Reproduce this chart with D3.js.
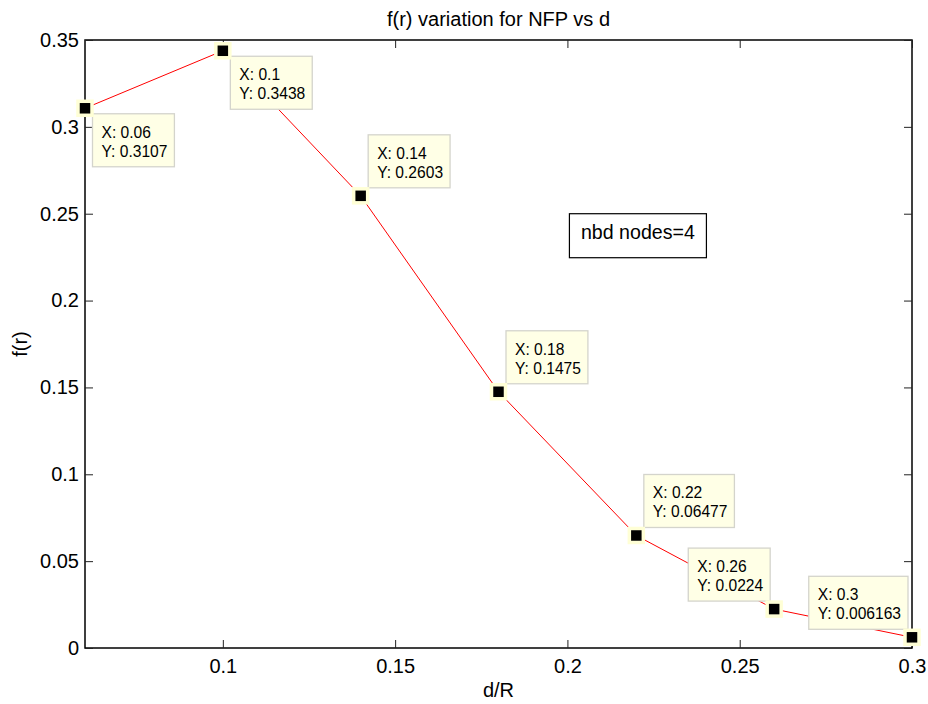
<!DOCTYPE html>
<html>
<head>
<meta charset="utf-8">
<script src="https://cdn.jsdelivr.net/npm/d3@7"></script>
<style>
  body { margin: 0; background: #fff; }
  text { font-family: "Liberation Sans", Arial, sans-serif; fill: #000; }
</style>
</head>
<body>
<svg id="chart" width="928" height="704"></svg>
<script>
// data
const dValues = [0.06, 0.1, 0.14, 0.18, 0.22, 0.26, 0.3];
const fValues = [0.3107, 0.3438, 0.2603, 0.1475, 0.06477, 0.0224, 0.006163];
const tipLabels = ["0.3107", "0.3438", "0.2603", "0.1475", "0.06477", "0.0224", "0.006163"];
const xTicks = [0.1, 0.15, 0.2, 0.25, 0.3];
const yTicks = [0, 0.05, 0.1, 0.15, 0.2, 0.25, 0.3, 0.35];
const noteText = "nbd nodes=4";

// where each data tip sits relative to its point
const tipSide = ["br", "br", "tr", "tr", "tr", "tl", "tl"];

const svg = d3.select('#chart');
const mLeft = 85, mRight = 912, mTop = 40, mBottom = 648;

const x = d3.scaleLinear().domain([0.06, 0.3]).range([mLeft, mRight]);
const y = d3.scaleLinear().domain([0, 0.35]).range([mBottom, mTop]);

// axes box
svg.append('rect')
    .attr('x', mLeft).attr('y', mTop)
    .attr('width', mRight - mLeft).attr('height', mBottom - mTop)
    .attr('fill', 'none').attr('stroke', '#000').attr('stroke-width', 1.5);

const fmt = d => String(+d.toFixed(2));

// ticks, inward, on all four sides
svg.append('g').attr('transform', 'translate(0,' + mBottom + ')')
    .call(d3.axisBottom(x).tickValues(xTicks).tickSizeInner(-8).tickSizeOuter(0).tickPadding(11).tickFormat(fmt))
    .call(g => g.select('.domain').remove())
    .call(g => g.selectAll('text').attr('font-size', 20).attr('fill', '#000'));
svg.append('g').attr('transform', 'translate(0,' + mTop + ')')
    .call(d3.axisTop(x).tickValues(xTicks).tickSizeInner(-8).tickSizeOuter(0).tickFormat(''))
    .call(g => g.select('.domain').remove());
svg.append('g').attr('transform', 'translate(' + mLeft + ',0)')
    .call(d3.axisLeft(y).tickValues(yTicks).tickSizeInner(-8).tickSizeOuter(0).tickPadding(6).tickFormat(fmt))
    .call(g => g.select('.domain').remove())
    .call(g => g.selectAll('text').attr('font-size', 20).attr('fill', '#000'));
svg.append('g').attr('transform', 'translate(' + mRight + ',0)')
    .call(d3.axisRight(y).tickValues(yTicks).tickSizeInner(-8).tickSizeOuter(0).tickFormat(''))
    .call(g => g.select('.domain').remove());
svg.selectAll('.tick line').attr('stroke', '#222');
svg.selectAll('.tick text').style('font-family', '"Liberation Sans", Arial, sans-serif');

// line
const pts = dValues.map((d, i) => [d, fValues[i]]);
svg.append('path')
    .datum(pts)
    .attr('fill', 'none')
    .attr('stroke', '#ff0000')
    .attr('stroke-width', 1)
    .attr('d', d3.line().x(d => x(d[0])).y(d => y(d[1])));

// data tips
const tips = svg.append('g');
pts.forEach((p, i) => {
    const px = x(p[0]), py = y(p[1]);
    const g = tips.append('g');
    const box = g.append('rect');
    const t1 = g.append('text').attr('font-size', 15.6).text('X: ' + p[0]);
    const t2 = g.append('text').attr('font-size', 15.6).text('Y: ' + tipLabels[i]);
    const w = Math.max(t1.node().getComputedTextLength(), t2.node().getComputedTextLength()) + 16;
    const h = 53;
    const side = tipSide[i];
    const bx = side[1] === 'r' ? px + 7.5 : px - 4 - w;
    const by = side[0] === 'b' ? py + 5.5 : py - 8 - h;
    box.attr('x', bx).attr('y', by).attr('width', w).attr('height', h)
        .attr('fill', '#ffffe6').attr('stroke', '#d4d4cc').attr('stroke-width', 1.3);
    t1.attr('x', bx + 9).attr('y', by + 24);
    t2.attr('x', bx + 9).attr('y', by + 43);
});

// markers with pale halo
tips.selectAll('rect.marker')
    .data(pts)
    .join('rect')
    .attr('class', 'marker')
    .attr('x', d => x(d[0]) - 7)
    .attr('y', d => y(d[1]) - 7)
    .attr('width', 14).attr('height', 14)
    .attr('fill', '#000')
    .attr('stroke', '#ffffd6').attr('stroke-width', 3.5);

// annotation box
const nx = x(0.2) + 2, ny = y(0.25);
const note = svg.append('g');
note.append('rect')
    .attr('x', nx).attr('y', ny).attr('width', 137).attr('height', 44)
    .attr('fill', '#fff').attr('stroke', '#000').attr('stroke-width', 1.2);
note.append('text')
    .attr('font-size', 19.6)
    .attr('x', nx + 68.5).attr('y', ny + 25)
    .attr('text-anchor', 'middle')
    .text(noteText);

// labels
svg.append('text').attr('x', (mLeft + mRight) / 2).attr('y', 26)
    .attr('text-anchor', 'middle').attr('font-size', 20).text('f(r) variation for NFP vs d');
svg.append('text').attr('x', (mLeft + mRight) / 2).attr('y', 697)
    .attr('text-anchor', 'middle').attr('font-size', 20).text('d/R');
svg.append('text').attr('transform', 'translate(27,' + (mTop + mBottom) / 2 + ') rotate(-90)')
    .attr('text-anchor', 'middle').attr('font-size', 20).text('f(r)');
</script>
</body>
</html>
